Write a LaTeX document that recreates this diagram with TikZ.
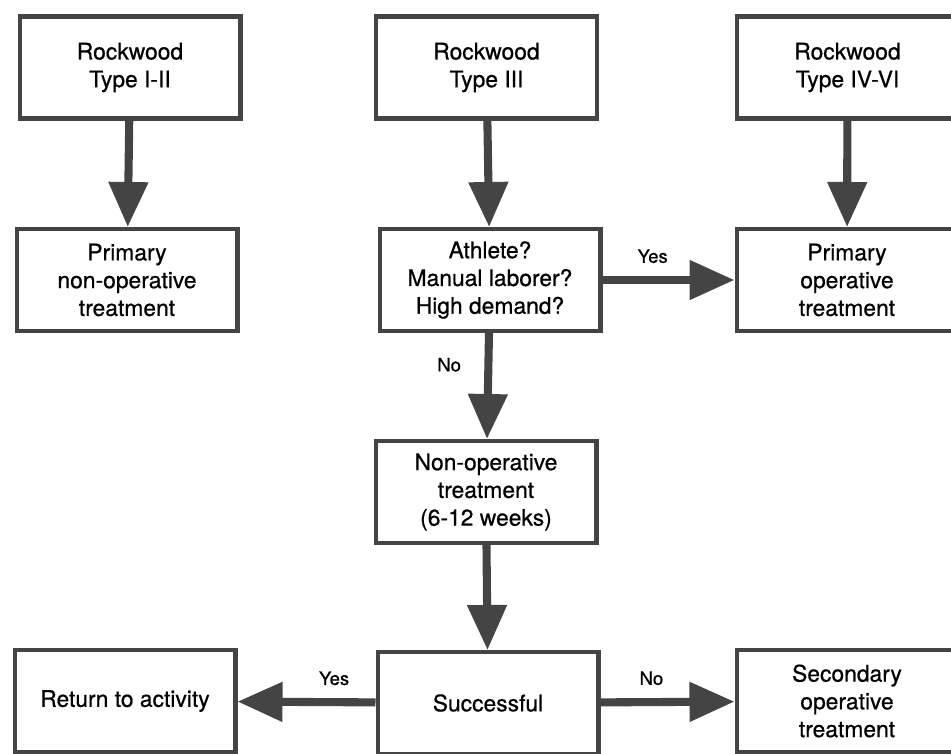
\documentclass[tikz,border=0pt]{standalone}
\usepackage{fontspec}
\setmainfont{TeX Gyre Heros}[FakeBold=0.6]
\usepackage{xcolor}
\usepackage{tikz}
\usetikzlibrary{positioning}
\usetikzlibrary{arrows.meta,calc}
\definecolor{boxgray}{RGB}{68,68,68}
\tikzset{
	stage/.style={
			draw=boxgray, line width=2.3pt, fill=white, align=center,
			minimum width=4.42cm, minimum height=2.04cm,
			font=\fontsize{13}{15.8}\selectfont
		},
	flow/.style={
			draw=boxgray, line width=4.6pt,
			-{Triangle[length=0.9cm,width=0.76cm]}
		},
	answer/.style={font=\fontsize{10.5}{12}\selectfont, text=black}
}

\begin{document}
\begin{tikzpicture}[x=0.02cm, y=-0.02cm]

  \useasboundingbox (0,0) rectangle (951,754);
  \clip (0,0) rectangle (951,754);

  \node[stage] (typeone) at (130,67.5) {Rockwood\\Type I-II};
  \node[stage] (typethree) at (486.5,67.5) {Rockwood\\Type III};
  \node[stage] (typefour) at (847.5,67.5) {Rockwood\\Type IV-VI};

  \node[stage] (primnonop) at (127,280) {Primary\\non-operative\\treatment};
  \node[stage] (demand) at (490,280) {Athlete?\\Manual laborer?\\High demand?};
  \node[stage] (primop) at (847,280) {Primary\\operative\\treatment};

  \node[stage] (nonop) at (486,492) {Non-operative\\treatment\\(6-12 weeks)};

  \node[stage] (success) at (488,703) {Successful};
  \node[stage] (returnact) at (125,701) {Return to activity};
  \node[stage] (secop) at (847,701) {Secondary\\operative\\treatment};

\draw[flow] (typeone) -- (primnonop);
\draw[flow] (typethree) -- (demand);
\draw[flow] (typefour) -- (primop);
\path (demand) edge[flow] node[answer, pos=0.38, above=4pt] {Yes} (primop);
\path (demand) edge[flow] node[answer, pos=0.3, left=10pt] {No} (nonop);
\draw[flow] (nonop) -- (success);
\path (success) edge[flow] node[answer, pos=0.3, above=4pt] {Yes} (returnact);
\path (success) edge[flow] node[answer, pos=0.38, above=4pt] {No} (secop);
    \end{tikzpicture}
\end{document}
